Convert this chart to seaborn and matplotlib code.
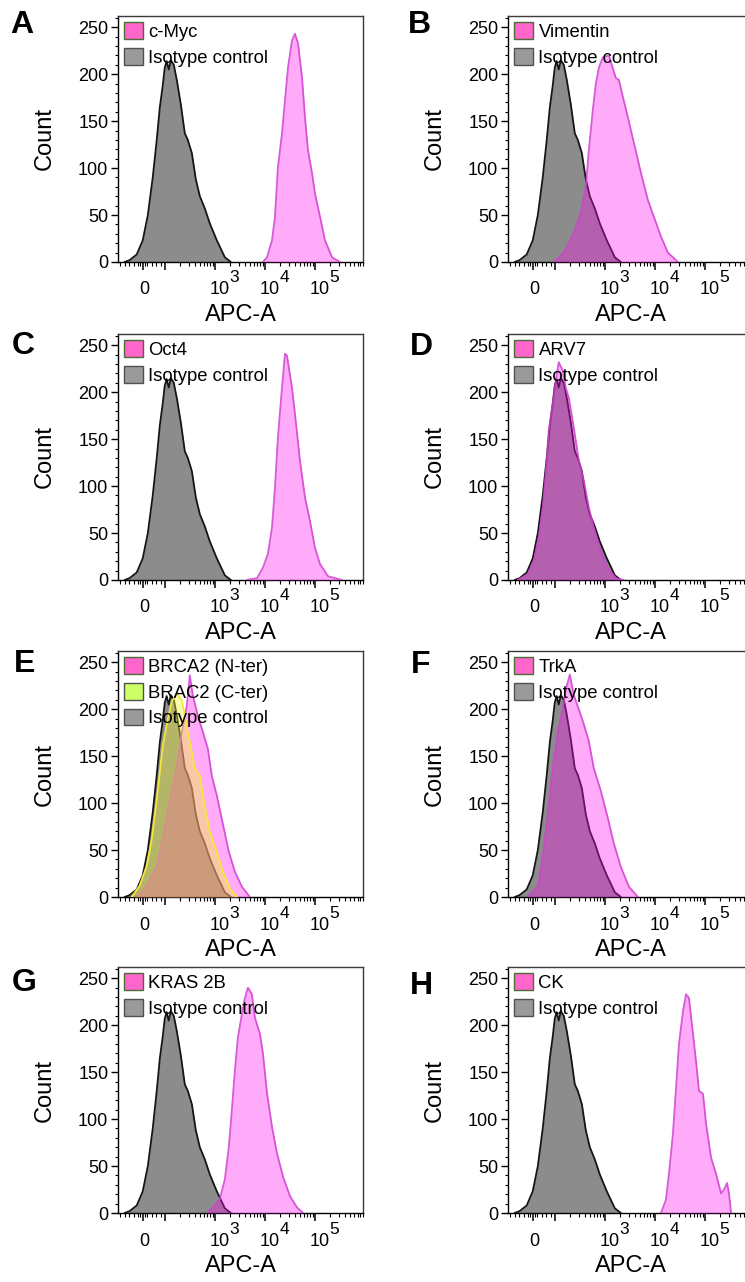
import matplotlib
matplotlib.use("Agg")
import matplotlib.pyplot as plt
from matplotlib.patches import Patch
from matplotlib.ticker import FixedLocator, MultipleLocator, NullFormatter
import seaborn as sns

# ---------------- data (APC-A fluorescence vs. event count) ----------------
isotype_x = [-81, -59, -27, 0, 23, 45, 63, 77, 90, 99, 108, 119, 131, 150, 172,
             207, 249, 286, 344, 413, 497, 625, 787, 1086, 1570, 2070]
isotype_count = [0, 2, 8, 23, 50, 90, 130, 165, 188, 207, 214, 205, 215, 210, 194,
                 168, 137, 130, 116, 88, 70, 57, 41, 23, 5, 0]

cmyc_x = [9.0e3, 1.09e4, 1.37e4, 1.57e4, 1.80e4, 2.17e4, 2.49e4, 2.86e4, 3.44e4, 3.94e4,
          4.53e4, 5.45e4, 6.25e4, 7.18e4, 8.63e4, 9.91e4, 1.25e5, 1.57e5, 2.17e5, 3.13e5]
cmyc_count = [0, 5, 23, 48, 101, 137, 172, 207, 236, 243,
              233, 197, 154, 119, 95, 73, 48, 23, 5, 0]

vimentin_x = [95, 150, 238, 328, 413, 474, 570, 655, 752, 904, 1191, 1644, 1888, 2270,
              2858, 3767, 5200, 7178, 9462, 1.31e4, 1.80e4, 2.86e4]
vimentin_count = [0, 10, 31, 52, 80, 119, 162, 190, 207, 218, 220, 196, 194, 176,
                  154, 127, 95, 66, 48, 27, 10, 0]

oct4_x = [4.3e3, 6.9e3, 9.0e3, 1.14e4, 1.37e4, 1.57e4, 1.80e4, 2.17e4, 2.49e4, 2.73e4,
          3.44e4, 3.94e4, 4.97e4, 6.25e4, 7.87e4, 9.91e4, 1.25e5, 1.80e5, 3.44e5]
oct4_count = [0, 2, 13, 28, 56, 98, 152, 205, 241, 239,
              205, 177, 127, 88, 63, 34, 17, 4, 0]

arv7_x = [-68, -23, 4.5, 27, 45, 59, 72, 90, 104, 119, 143, 164, 189, 238, 299, 377,
          474, 597, 824, 1138, 1644, 2377]
arv7_count = [0, 6, 20, 45, 77, 116, 159, 188, 213, 232, 223, 205, 194, 162, 127, 106,
              77, 56, 31, 13, 2, 0]

brca2_n_x = [-27, 18, 63, 90, 125, 172, 217, 273, 313, 360, 453, 570, 718, 863, 1086,
             1368, 1888, 2489, 3436, 4966]
brca2_n_count = [0, 12, 33, 62, 104, 140, 176, 204, 236, 215, 193, 176, 158, 129, 108,
                 83, 48, 27, 11, 0]

brca2_c_x = [-50, -14, 18, 41, 63, 77, 90, 114, 137, 172, 217, 249, 313, 394, 497, 625,
             787, 1086, 1432, 1977, 2729]
brca2_c_count = [0, 12, 33, 62, 104, 133, 161, 190, 208, 217, 209, 193, 165, 137, 129, 97,
                 69, 48, 27, 9, 0]

trka_x = [-23, 23, 45, 68, 90, 114, 143, 164, 198, 238, 299, 377, 474, 597, 824, 1138,
          1500, 2070, 2992, 4529]
trka_count = [0, 11, 42, 89, 137, 176, 200, 221, 237, 215, 200, 184, 166, 137, 113, 84,
              57, 32, 11, 0]

kras_x = [686, 904, 1247, 1570, 1888, 2168, 2489, 2858, 3436, 3945, 4529, 5445, 6252,
          7870, 9036, 1.09e4, 1.37e4, 1.72e4, 2.27e4, 3.13e4, 4.33e4, 5.70e4]
kras_count = [0, 6, 15, 36, 71, 110, 152, 187, 212, 229, 240, 233, 208,
              191, 170, 128, 92, 64, 39, 18, 6, 0]

ck_x = [1.31e4, 1.64e4, 1.89e4, 2.27e4, 2.61e4, 2.99e4, 3.60e4, 4.13e4, 4.74e4, 5.70e4,
        6.55e4, 7.52e4, 9.04e4, 1.04e5, 1.31e5, 1.64e5, 2.07e5, 2.38e5, 2.73e5, 2.99e5, 3.28e5]
ck_count = [0, 14, 42, 85, 133, 180, 215, 233, 229, 191,
            162, 130, 127, 95, 59, 42, 21, 25, 32, 21, 0]

isotype_label = "Isotype control"
y_ticks = [0, 50, 100, 150, 200, 250]
decade_ticks = [1e3, 1e4, 1e5]
decade_exponents = ["3", "4", "5"]

# ---------------- styling ----------------
sns.set_theme(style="ticks")
plt.rcParams["font.family"] = ["Liberation Sans", "DejaVu Sans"]
for key in ("text.color", "axes.labelcolor", "xtick.color", "ytick.color", "axes.edgecolor"):
    plt.rcParams[key] = "black"

STYLES = {
    "iso":    dict(fill="#8C8C8C", fill_alpha=1.0, line="#151515", line_alpha=1.0,
                   patch="#9A9A9A", patch_edge="#505050"),
    "pink":   dict(fill="#FF10F0", fill_alpha=0.35, line="#D040D0", line_alpha=0.85,
                   patch="#FF66CC", patch_edge="#4D6B32"),
    "yellow": dict(fill="#F2F532", fill_alpha=0.40, line="#F5E83A", line_alpha=1.0,
                   patch="#CCFF66", patch_edge="#505050"),
}

# (letter, column, row, curves drawn over the isotype control, legend entries)
panels = [
    ("A", 0, 0, [("c-Myc", cmyc_x, cmyc_count, "pink")]),
    ("B", 1, 0, [("Vimentin", vimentin_x, vimentin_count, "pink")]),
    ("C", 0, 1, [("Oct4", oct4_x, oct4_count, "pink")]),
    ("D", 1, 1, [("ARV7", arv7_x, arv7_count, "pink")]),
    ("E", 0, 2, [("BRCA2 (N-ter)", brca2_n_x, brca2_n_count, "pink"),
                 ("BRAC2 (C-ter)", brca2_c_x, brca2_c_count, "yellow")]),
    ("F", 1, 2, [("TrkA", trka_x, trka_count, "pink")]),
    ("G", 0, 3, [("KRAS 2B", kras_x, kras_count, "pink")]),
    ("H", 1, 3, [("CK", ck_x, ck_count, "pink")]),
]

W, H = 745, 1282
fig = plt.figure(figsize=(W / 100, H / 100), dpi=100)

col_left = [118, 508]
row_top = [16, 334, 651, 967]
ax_w, ax_h = 245, 246
letter_pos = {"A": (10, 33), "B": (408, 33), "C": (12, 354), "D": (410, 355),
              "E": (14, 672), "F": (411, 673), "G": (12, 991), "H": (410, 994)}

minor_x = ([-100, -80, -60, -40, -20, -10, 10, 20, 40, 60, 80] +
           [m * 10 ** e for e in range(2, 6) for m in range(2, 10)])


def draw_hist(ax, x, y, key, z):
    st = STYLES[key]
    ax.fill_between(x, 0, y, color=st["fill"], alpha=st["fill_alpha"], lw=0, zorder=z)
    sns.lineplot(x=x, y=y, ax=ax, sort=False, estimator=None, color=st["line"],
                 alpha=st["line_alpha"], lw=1.3, zorder=z + 0.5, legend=False)


for letter, col, row, curves in panels:
    left, top = col_left[col], row_top[row]
    ax = fig.add_axes([left / W, 1 - (top + ax_h) / H, ax_w / W, ax_h / H])

    draw_hist(ax, isotype_x, isotype_count, "iso", 2)
    # pink drawn before yellow so the overlap blends to peach
    order = sorted(curves, key=lambda c: 0 if c[3] == "pink" else 1)
    for i, (lab, xs, ys, key) in enumerate(order):
        draw_hist(ax, xs, ys, key, 3 + i)

    ax.set_xscale("symlog", linthresh=100, linscale=0.4)
    ax.set_xlim(-112, 9.0e5)
    ax.set_ylim(0, 262)

    ax.set_yticks(y_ticks)
    ax.yaxis.set_minor_locator(MultipleLocator(10))
    ax.tick_params(axis="y", which="major", direction="out", length=5, width=1,
                   labelsize=13, pad=2, colors="black")
    ax.tick_params(axis="y", which="minor", direction="out", length=2.5, width=0.8)

    ax.xaxis.set_major_locator(FixedLocator([0, 100, 1e3, 1e4, 1e5]))
    ax.xaxis.set_minor_locator(FixedLocator(minor_x))
    ax.xaxis.set_major_formatter(NullFormatter())
    ax.xaxis.set_minor_formatter(NullFormatter())
    ax.tick_params(axis="x", which="major", direction="out", length=6, width=1.1)
    ax.tick_params(axis="x", which="minor", direction="out", length=3, width=0.8)

    # FACS-style decade labels
    ax.annotate("0", xy=(0, 0), xycoords=("data", "axes fraction"), xytext=(2, -28),
                textcoords="offset pixels", ha="center", va="center", fontsize=13,
                annotation_clip=False)
    for v, e in zip(decade_ticks, decade_exponents):
        ax.annotate("10", xy=(v, 0), xycoords=("data", "axes fraction"), xytext=(4.5, -28),
                    textcoords="offset pixels", ha="center", va="center", fontsize=13,
                    annotation_clip=False)
        ax.annotate(e, xy=(v, 0), xycoords=("data", "axes fraction"), xytext=(19, -16),
                    textcoords="offset pixels", ha="center", va="center", fontsize=12.5,
                    annotation_clip=False)

    for side, sp in ax.spines.items():
        sp.set_visible(True)
        sp.set_linewidth(1.0)
        sp.set_color("black" if side in ("left", "bottom") else "#3a3a3a")

    ax.set_xlabel("APC-A", fontsize=17)
    ax.xaxis.set_label_coords(0.5, -42.0 / ax_h)
    ax.set_ylabel("Count", fontsize=17)
    ax.yaxis.set_label_coords(-62.0 / ax_w, 0.5)

    handles, labels = [], []
    for lab, xs, ys, key in curves:
        st = STYLES[key]
        handles.append(Patch(facecolor=st["patch"], edgecolor=st["patch_edge"], lw=1.0))
        labels.append(lab)
    st = STYLES["iso"]
    handles.append(Patch(facecolor=st["patch"], edgecolor=st["patch_edge"], lw=1.0))
    labels.append(isotype_label)
    leg = ax.legend(handles, labels, loc="upper left", frameon=False, fontsize=13.3,
                    handlelength=1.0, handleheight=1.0, handletextpad=0.3,
                    labelspacing=0.38, borderpad=0.15, borderaxespad=0.2)
    leg.set_zorder(10)

    lx, ly = letter_pos[letter]
    fig.text(lx / W, 1 - ly / H, letter, fontsize=23, fontweight="bold",
             ha="left", va="baseline")

fig.savefig("out.png", dpi=100)
